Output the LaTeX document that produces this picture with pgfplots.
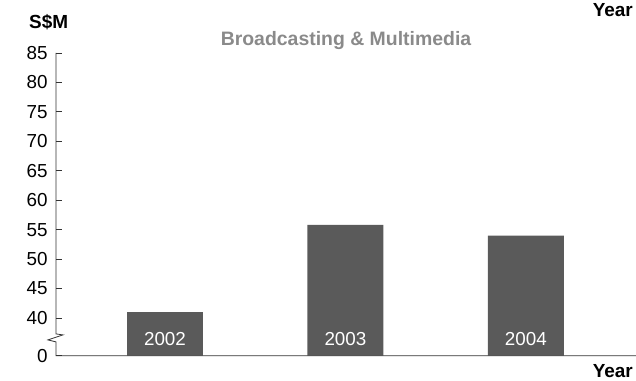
\documentclass[border=0pt]{standalone}
\usepackage{pgfplots}
\pgfplotsset{compat=1.18}
\usepackage{fontspec}
\setmainfont{Liberation Sans}
\definecolor{bargray}{HTML}{5A5A5A}
\definecolor{titlegray}{HTML}{8A8A8A}
\definecolor{axisgray}{HTML}{333333}
\begin{document}
\begin{tikzpicture}
\useasboundingbox (0,0) rectangle (636bp,381bp);
\begin{axis}[
  at={(56bp,25.3bp)}, anchor=south west,
  scale only axis, width=580bp, height=302.7bp,
  xmin=-0.604, xmax=2.61,
  ymin=0, ymax=85,
  y coord trafo/.code={\pgfmathparse{#1>=20 ? #1-33.6 : #1}},
  y coord inv trafo/.code={\pgfmathparse{#1>=6.4 ? #1+33.6 : #1}},
  axis line style={draw=none},
  axis on top,
  clip=false,
  /pgf/number format/assume math mode=true,
  ytick={0,40,45,50,55,60,65,70,75,80,85},
  yticklabels={0,40,45,50,55,60,65,70,75,80,85},
  ytick pos=left,
  tick align=inside,
  major tick length=6bp,
  ytick style={axisgray, line width=0.8bp},
  yticklabel style={anchor=east, inner sep=0pt, xshift=-8.3bp, font=\fontsize{18.9}{22}\selectfont, text=black},
  xtick={0,1,2},
  xticklabels={2002,2003,2004},
  xtick pos=bottom,
  xtick style={draw=none},
  xticklabel style={anchor=center, inner sep=0pt, yshift=16.7bp, text=white, font=\fontsize{18.9}{22}\selectfont},
]
\addplot[ybar, fill=bargray, draw=none, bar width=0.421] coordinates {(0,41) (1,55.8) (2,54)};
\draw[axisgray, line width=0.8bp] (axis cs:-0.604,85) -- (axis cs:-0.604,3.7) -- ++(7bp,-1bp) -- ++(-15bp,-5bp) -- ++(8bp,-2bp) -- (axis cs:-0.604,0) -- (axis cs:2.61,0);
\end{axis}
\node[anchor=base west, inner sep=0pt, font=\bfseries\fontsize{19}{22}\selectfont] at (29bp,352.2bp) {S\$M};
\node[anchor=base east, inner sep=0pt, font=\bfseries\fontsize{19}{22}\selectfont] at (633bp,364.2bp) {Year};
\node[anchor=base east, inner sep=0pt, font=\bfseries\fontsize{19}{22}\selectfont] at (633bp,3.2bp) {Year};
\node[anchor=base, inner sep=0pt, text=titlegray, font=\bfseries\fontsize{19.5}{22}\selectfont] at (346bp,335bp) {Broadcasting \& Multimedia};
\end{tikzpicture}
\end{document}
